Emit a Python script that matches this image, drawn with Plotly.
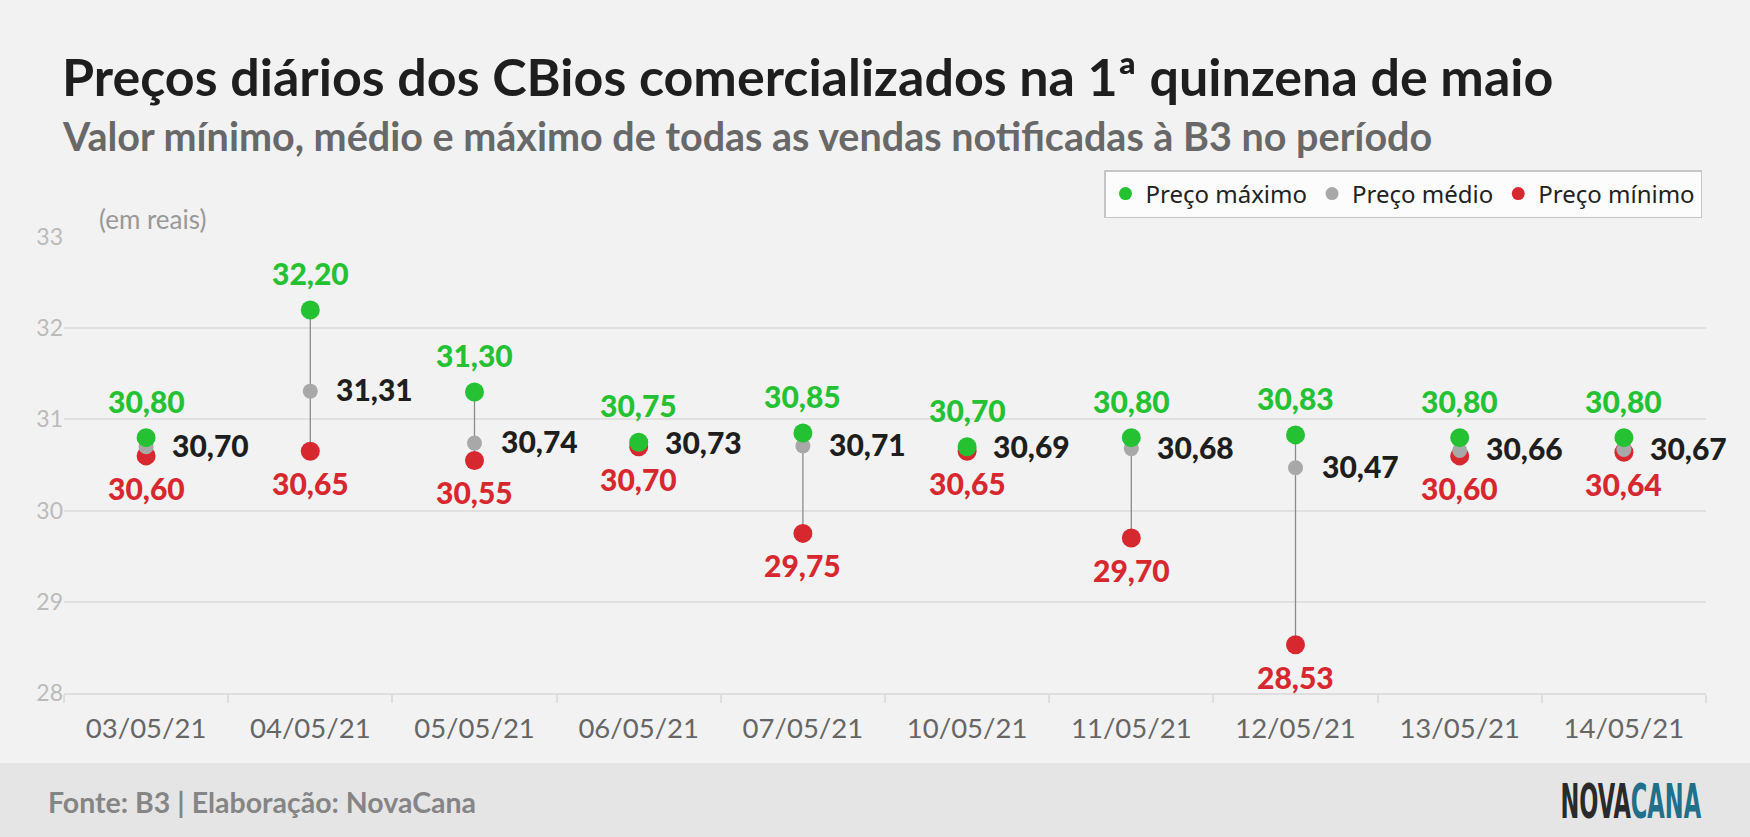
import plotly.graph_objects as go

# dados (R$ por CBio)
dates = ['03/05/21', '04/05/21', '05/05/21', '06/05/21', '07/05/21',
         '10/05/21', '11/05/21', '12/05/21', '13/05/21', '14/05/21']
price_max = [30.80, 32.20, 31.30, 30.75, 30.85, 30.70, 30.80, 30.83, 30.80, 30.80]
price_avg = [30.70, 31.31, 30.74, 30.73, 30.71, 30.69, 30.68, 30.47, 30.66, 30.67]
price_min = [30.60, 30.65, 30.55, 30.70, 29.75, 30.65, 29.70, 28.53, 30.60, 30.64]
y_ticks = [28, 29, 30, 31, 32, 33]

GREEN = '#24c132'
GREY = '#a8a8a8'
RED = '#d7282f'
BG = '#f2f2f2'

W, H = 1750, 837
ML, MR, MT, MB = 64, 44, 237, 144
PH = H - MT - MB
PW = W - ML - MR


def py(px):
    # pixel (from top) -> paper y
    return (H - MB - px) / PH


def px_(x):
    return (x - ML) / PW


def fmt(v):
    return f'{v:.2f}'.replace('.', ',')


fig = go.Figure()

# hastes min -> max
lx, ly = [], []
for d, lo, hi in zip(dates, price_min, price_max):
    lx += [d, d, None]
    ly += [lo, hi, None]
fig.add_trace(go.Scatter(x=lx, y=ly, mode='lines', line=dict(color='#8a8a8a', width=1.3),
                         hoverinfo='skip', showlegend=False))

fig.add_trace(go.Scatter(x=dates, y=price_min, mode='markers', name='Preço mínimo',
                         marker=dict(color=RED, size=19), showlegend=False, cliponaxis=False))
fig.add_trace(go.Scatter(x=dates, y=price_avg, mode='markers', name='Preço médio',
                         marker=dict(color=GREY, size=15), showlegend=False, cliponaxis=False))
fig.add_trace(go.Scatter(x=dates, y=price_max, mode='markers', name='Preço máximo',
                         marker=dict(color=GREEN, size=19), showlegend=False, cliponaxis=False))

# legenda (marcadores menores)
for nm, c in [('Preço máximo', GREEN), ('Preço médio', GREY), ('Preço mínimo', RED)]:
    fig.add_trace(go.Scatter(x=[None], y=[None], mode='markers', name=nm,
                             marker=dict(color=c, size=13)))

ann = []
for d, hi, av, lo in zip(dates, price_max, price_avg, price_min):
    ann.append(dict(x=d, y=hi, text=fmt(hi), showarrow=False, yshift=37,
                    font=dict(family='Lato', size=30, color=GREEN, weight=900)))
    ann.append(dict(x=d, y=lo, text=fmt(lo), showarrow=False, yshift=-32,
                    font=dict(family='Lato', size=30, color=RED, weight=900)))
    ann.append(dict(x=d, y=av, text=fmt(av), showarrow=False, xanchor='left',
                    xshift=24, yshift=2, font=dict(family='Lato', size=30, color='#1e1e1e', weight=900)))

ann.append(dict(xref='paper', yref='paper', x=px_(60), y=py(76), xanchor='left', yanchor='middle',
                text='<b>Preços diários dos CBios comercializados na 1ª quinzena de maio</b>',
                showarrow=False, font=dict(family='Lato', size=52, color='#1e1e1e')))
ann.append(dict(xref='paper', yref='paper', x=px_(60), y=py(135), xanchor='left', yanchor='middle',
                text='<b>Valor mínimo, médio e máximo de todas as vendas notificadas à B3 no período</b>',
                showarrow=False, font=dict(family='Lato', size=39.5, color='#686868')))
ann.append(dict(xref='paper', yref='paper', x=px_(97), y=py(219), xanchor='left', yanchor='middle',
                text='(em reais)', showarrow=False, font=dict(family='Lato', size=26, color='#999999')))
ann.append(dict(xref='paper', yref='paper', x=px_(46), y=py(802), xanchor='left', yanchor='middle',
                text='<b>Fonte: B3 | Elaboração: NovaCana</b>', showarrow=False,
                font=dict(family='Lato', size=28.5, color='#858585')))
ann.append(dict(xref='paper', yref='paper', x=px_(1703), y=py(801), xanchor='right', yanchor='middle',
                text='<b><span style="color:#2a2a2a">NOVA</span><span style="color:#21708a">CANA</span></b>',
                showarrow=False,
                font=dict(family='Liberation Sans Narrow, DejaVu Sans Condensed, sans-serif', size=48)))

fig.update_layout(
    width=W, height=H,
    margin=dict(l=ML, r=MR, t=MT, b=MB),
    paper_bgcolor=BG, plot_bgcolor=BG,
    annotations=ann,
    shapes=[dict(type='rect', xref='paper', yref='paper', x0=px_(0), x1=px_(W),
                 y0=py(H), y1=py(763), fillcolor='#e5e5e5', line=dict(width=0), layer='below')],
    legend=dict(orientation='h', x=px_(1702), xanchor='right', y=py(170), yanchor='top',
                bgcolor='#fcfcfc', bordercolor='#c6c6c6', borderwidth=1.5,
                font=dict(family='Noto Sans', size=24, color='#222222'),
                itemclick=False, itemdoubleclick=False),
    showlegend=True,
    hovermode=False,
)

fig.update_xaxes(type='category', categoryorder='array', categoryarray=dates,
                 range=[-0.5, len(dates) - 0.5],
                 showgrid=False, showline=True, linecolor='#dedede', linewidth=2,
                 ticks='outside', tickson='boundaries', ticklen=8, tickcolor='#dedede', tickwidth=1.5,
                 ticklabelstandoff=10,
                 tickfont=dict(family='Lato', size=27.5, color='#666666'), fixedrange=True)
fig.update_yaxes(range=[28, 33], tickvals=y_ticks, ticktext=[str(t) for t in y_ticks],
                 showgrid=True, gridcolor='#e0e0e0', gridwidth=1.5, zeroline=False,
                 showline=False, ticks='', tickfont=dict(family='Lato', size=23, color='#bbbbbb'),
                 fixedrange=True)

# o logotipo usa uma fonte bem condensada: comprime o texto na horizontal
post = """
document.body.style.margin='0px';
document.querySelectorAll('text.annotation-text').forEach(function(t){
  if (t.textContent === 'NOVACANA') {
    var b = t.getBBox();
    var r = b.x + b.width;
    var sx = 141 / b.width;
    var tr = t.getAttribute('transform') || '';
    t.setAttribute('transform', tr + ' translate(' + r + ',0) scale(' + sx + ',1) translate(' + (-r) + ',0)');
  }
});
"""
fig.write_html('out.html', config={'displayModeBar': False}, post_script=post)
